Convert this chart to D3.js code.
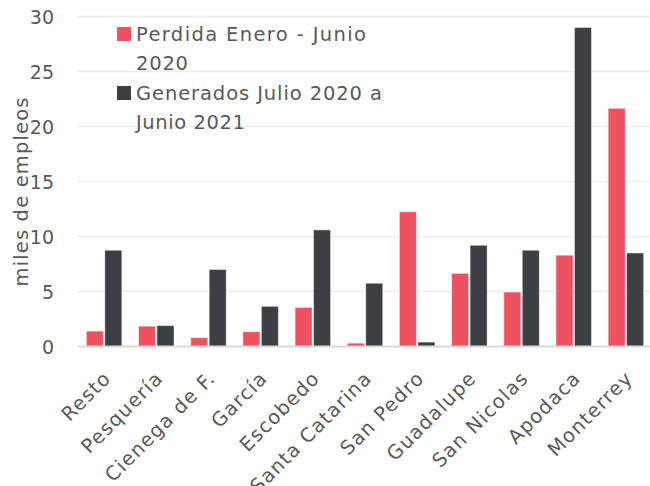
<!DOCTYPE html>
<html><head><meta charset="utf-8">
<script src="https://cdn.jsdelivr.net/npm/d3@7"></script>
<style>
body{margin:0;background:#fff;}
text{font-family:"DejaVu Sans",sans-serif;fill:#595959;}
</style></head>
<body><svg id="c" width="650" height="486"></svg>
<script>
const categories = ["Resto","Pesquería","Cienega de F.","García","Escobedo","Santa Catarina","San Pedro","Guadalupe","San Nicolas","Apodaca","Monterrey"];
const perdida = [1.4, 1.85, 0.8, 1.35, 3.55, 0.3, 12.25, 6.65, 4.95, 8.3, 21.65];
const generados = [8.75, 1.9, 7.0, 3.65, 10.6, 5.75, 0.4, 9.2, 8.75, 29.0, 8.5];
const seriesNames = ["Perdida Enero - Junio 2020", "Generados Julio 2020 a Junio 2021"];
const legendLines = [["Perdida Enero - Junio","2020"],["Generados Julio 2020 a","Junio 2021"]];
const yTicks = [0,5,10,15,20,25,30];
const yTitle = "miles de empleos";
const colors = ["#EE5261","#3C3F43"];

const svg = d3.select("#c");
const x0 = d3.scaleBand().domain(categories).range([78,652]).paddingInner(0.32).paddingOuter(0.16);
const x1 = d3.scaleBand().domain([0,1]).range([0,x0.bandwidth()]).paddingInner(0.08);
const y = d3.scaleLinear().domain([0,30]).range([346.5,16.5]);

// gridlines
svg.append("g").selectAll("line").data(yTicks.filter(t=>t>0)).join("line")
  .attr("x1",78).attr("x2",650).attr("y1",d=>y(d)).attr("y2",d=>y(d))
  .attr("stroke","#ececec").attr("stroke-width",1.5);

// y axis labels
const yAxis = d3.axisLeft(y).tickValues(yTicks).tickSize(0).tickPadding(0);
const ga = svg.append("g").attr("transform","translate(54,0)").call(yAxis);
ga.select(".domain").remove();
ga.selectAll("text").style("font-size","19px").style("font-family","DejaVu Sans").attr("fill","#595959").attr("dy","0.36em");

// bars
const data = categories.map((c,i)=>({c, vals:[perdida[i],generados[i]]}));
const groups = svg.append("g").selectAll("g").data(data).join("g")
  .attr("transform",d=>`translate(${x0(d.c)},0)`);
groups.selectAll("rect").data(d=>d.vals.map((v,k)=>({v,k}))).join("rect")
  .attr("x",d=>x1(d.k)).attr("width",x1.bandwidth())
  .attr("y",d=>y(d.v)).attr("height",d=>y(0)-y(d.v))
  .attr("fill",d=>colors[d.k]).attr("stroke","rgba(255,255,255,0.45)").attr("stroke-width",1);

// baseline
svg.append("line").attr("x1",78).attr("x2",650).attr("y1",y(0)).attr("y2",y(0))
  .attr("stroke","#d9d9d9").attr("stroke-width",2);

// x labels
const xAxis = d3.axisBottom(x0).tickSize(0).tickPadding(0);
const gx = svg.append("g").attr("transform",`translate(0,${y(0)})`).call(xAxis);
gx.select(".domain").remove();
gx.selectAll("text").style("font-size","19.5px").style("font-family","DejaVu Sans").style("letter-spacing","1.2px").attr("fill","#595959")
  .attr("text-anchor","end").attr("y",0).attr("dy",0)
  .attr("transform","translate(8,33) rotate(-45)");

// y title
svg.append("text").attr("transform","translate(28,192) rotate(-90)").attr("text-anchor","middle")
  .style("font-size","19.5px").attr("textLength",189).attr("lengthAdjust","spacing").text(yTitle);

// legend
const leg = svg.append("g");
const legTops = [27,86];
const legWidths = [[230,52],[246,109]];
legendLines.forEach((lines,i)=>{
  leg.append("rect").attr("x",117).attr("y",legTops[i]).attr("width",14).attr("height",14).attr("fill",colors[i]);
  lines.forEach((t,j)=>{
    leg.append("text").attr("x",136).attr("y",legTops[i]+14+j*29).style("font-size","19.5px")
      .attr("textLength",legWidths[i][j]).attr("lengthAdjust","spacing").text(t);
  });
});
</script></body></html>
